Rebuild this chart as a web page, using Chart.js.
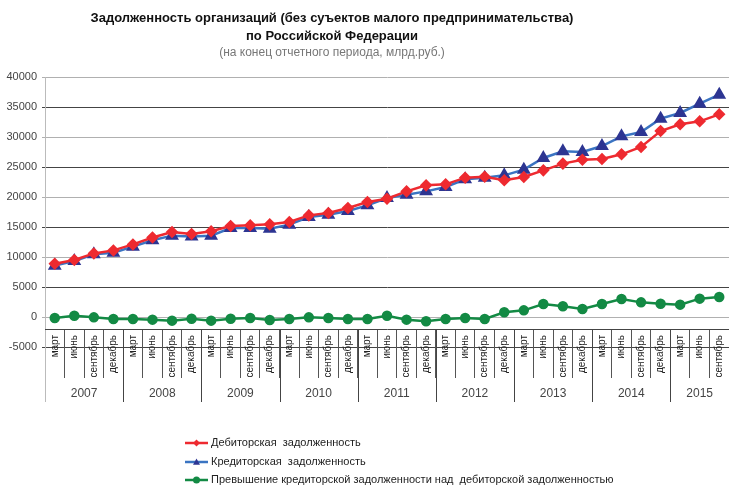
<!DOCTYPE html>
<html>
<head>
<meta charset="utf-8">
<script src="https://cdn.jsdelivr.net/npm/chart.js@4/dist/chart.umd.min.js"></script>
<style>
  html, body { margin: 0; padding: 0; background: #fff; overflow: hidden; }
  #wrap { width: 729px; height: 486px; position: relative; }
  canvas { display: block; }
</style>
</head>
<body>
<div id="wrap"><canvas id="chart"></canvas></div>
<script>
const months = ['март', 'июнь', 'сентябрь', 'декабрь'];
const years = ['2007', '2008', '2009', '2010', '2011', '2012', '2013', '2014', '2015'];
const quartersPerYear = [4, 4, 4, 4, 4, 4, 4, 4, 3];

// Дебиторская задолженность, млрд.руб.
const debit = [
  8890, 9500, 10600, 11100,
  12100, 13250, 14170, 13850,
  14280, 15170, 15280, 15440,
  15830, 16940, 17330, 18170,
  19170, 19720, 20940, 21940,
  22110, 23220, 23380, 22780,
  23330, 24440, 25560, 26220,
  26330, 27110, 28330, 31000,
  32110, 32610, 33780
];
// Кредиторская задолженность
const credit = [
  8560, 9330, 10440, 10720,
  11720, 12800, 13560, 13420,
  13560, 14830, 14830, 14720,
  15390, 16670, 17060, 17670,
  18610, 19830, 20390, 20940,
  21670, 22940, 23220, 23610,
  24560, 26500, 27610, 27500,
  28500, 30110, 30830, 33060,
  34000, 35560, 37060
];
// Превышение кредиторской над дебиторской
const excess = [
  -170, 220, -60, -330,
  -330, -440, -610, -280,
  -610, -280, -170, -500,
  -330, -60, -170, -330,
  -330, 220, -440, -720,
  -330, -170, -330, 780,
  1110, 2170, 1780, 1330,
  2170, 3000, 2440, 2220,
  2060, 3060, 3330
];

const titleLines = [
  'Задолженность организаций (без суъектов малого предпринимательства)',
  'по Российской Федерации'
];
const subTitle = '(на конец отчетного периода, млрд.руб.)';

// category labels: quarter months, year by year
const labels = [];
quartersPerYear.forEach(n => {
  for (let q = 0; q < n; q++) labels.push(months[q]);
});

const font = "'Liberation Sans', Arial, sans-serif";

function drawMarker(ctx, style, cx, cy, r) {
  if (style === 'rectRot') {
    ctx.moveTo(cx, cy - r); ctx.lineTo(cx + r, cy); ctx.lineTo(cx, cy + r); ctx.lineTo(cx - r, cy); ctx.closePath();
  } else if (style === 'triangle') {
    ctx.moveTo(cx, cy - r); ctx.lineTo(cx + r, cy + r * 0.8); ctx.lineTo(cx - r, cy + r * 0.8); ctx.closePath();
  } else {
    ctx.arc(cx, cy, r, 0, Math.PI * 2);
  }
}

const decorPlugin = {
  id: 'decor',
  afterDraw(chart) {
    const ctx = chart.ctx;
    const x = chart.scales.x;
    const y = chart.scales.y;
    const axisY = y.getPixelForValue(-2000);
    const half = (x.getPixelForValue(1) - x.getPixelForValue(0)) / 2;
    ctx.save();

    // y axis line runs down through the label rows
    ctx.strokeStyle = '#bbbbbb';
    ctx.lineWidth = 1;
    ctx.beginPath();
    ctx.moveTo(y.right + 0.5, chart.chartArea.bottom);
    ctx.lineTo(y.right + 0.5, 402);
    ctx.stroke();

    // year separators and year labels
    let idx = 0;
    ctx.strokeStyle = '#444';
    ctx.fillStyle = '#444';
    ctx.font = '12px ' + font;
    ctx.textAlign = 'center';
    ctx.textBaseline = 'middle';
    years.forEach((yr, i) => {
      const first = idx;
      const last = idx + quartersPerYear[i] - 1;
      const edge = Math.round(x.getPixelForValue(last) + half) + 0.5;
      if (i < years.length - 1) {
        ctx.beginPath();
        ctx.moveTo(edge, axisY);
        ctx.lineTo(edge, 402);
        ctx.stroke();
      }
      const cx = (x.getPixelForValue(first) + x.getPixelForValue(last)) / 2;
      ctx.fillText(yr, cx, 394);
      idx = last + 1;
    });

    // titles
    ctx.fillStyle = '#111';
    ctx.font = 'bold 13px ' + font;
    ctx.fillText(titleLines[0], 332, 18);
    ctx.fillText(titleLines[1], 332, 36);
    ctx.fillStyle = '#777';
    ctx.font = '12px ' + font;
    ctx.fillText(subTitle, 332, 53);

    // legend below the chart
    const rows = [443, 462, 480];
    ctx.textAlign = 'left';
    ctx.font = '11px ' + font;
    chart.data.datasets.forEach((ds, i) => {
      const ry = rows[i];
      ctx.strokeStyle = ds.borderColor;
      ctx.lineWidth = 2.5;
      ctx.beginPath();
      ctx.moveTo(185, ry);
      ctx.lineTo(208, ry);
      ctx.stroke();
      ctx.fillStyle = ds.pointBackgroundColor;
      ctx.beginPath();
      drawMarker(ctx, ds.pointStyle, 196.5, ry, 3.5);
      ctx.fill();
      ctx.fillStyle = '#222';
      ctx.fillText(ds.label, 211, ry);
    });
    ctx.restore();
  }
};

const ctx = document.getElementById('chart');
const myChart = new Chart(ctx, {
  type: 'line',
  plugins: [decorPlugin],
  data: {
    labels: labels,
    datasets: [
      {
        label: 'Дебиторская  задолженность',
        data: debit,
        borderColor: '#ee2a30',
        backgroundColor: '#ee2a30',
        pointBackgroundColor: '#ee2a30',
        pointBorderColor: '#ee2a30',
        pointStyle: 'rectRot',
        pointRadius: 4.5,
        borderWidth: 2.5,
        tension: 0
      },
      {
        label: 'Кредиторская  задолженность',
        data: credit,
        borderColor: '#3a74c2',
        backgroundColor: '#2d3592',
        pointBackgroundColor: '#2d3592',
        pointBorderColor: '#2d3592',
        pointStyle: 'triangle',
        pointRadius: 5.5,
        borderWidth: 2.5,
        tension: 0
      },
      {
        label: 'Превышение кредиторской задолженности над  дебиторской задолженностью',
        data: excess,
        borderColor: '#138a44',
        backgroundColor: '#138a44',
        pointBackgroundColor: '#138a44',
        pointBorderColor: '#138a44',
        pointStyle: 'circle',
        pointRadius: 4,
        borderWidth: 2.5,
        tension: 0
      }
    ]
  },
  options: {
    responsive: true,
    maintainAspectRatio: false,
    animation: false,
    layout: {
      autoPadding: false,
      padding: { top: 77, bottom: 139, left: 0, right: 0 }
    },
    plugins: {
      legend: { display: false },
      title: { display: false },
      tooltip: { enabled: false }
    },
    scales: {
      y: {
        min: -5000,
        max: 40000,
        afterFit(scale) { scale.width = 45; },
        ticks: {
          stepSize: 5000,
          padding: 5,
          color: '#444',
          font: { family: font, size: 11 },
          callback: v => String(v)
        },
        grid: {
          tickLength: 3,
          color: c => (c.index % 2 === 0 ? '#444' : '#b0b0b0'),
          lineWidth: 1
        },
        border: { color: '#bbbbbb' }
      },
      x: {
        position: { y: -2000 },
        offset: true,
        afterFit(scale) { scale.paddingLeft = 0; scale.paddingRight = 0; },
        grid: {
          offset: true,
          drawOnChartArea: false,
          drawTicks: true,
          tickLength: 48,
          color: '#555'
        },
        border: { color: '#444' },
        ticks: {
          minRotation: 90,
          maxRotation: 90,
          autoSkip: false,
          padding: -42,
          color: '#222',
          font: { family: font, size: 10 }
        }
      }
    }
  }
});
</script>
</body>
</html>
